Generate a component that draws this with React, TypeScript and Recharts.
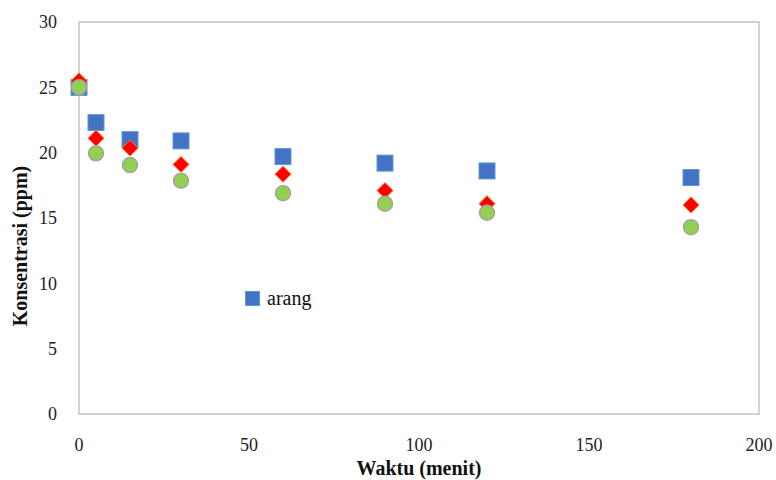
import React from 'react';
import { ScatterChart, Scatter, XAxis, YAxis, ReferenceArea } from 'recharts';

// waktu (menit)
const waktu = [0, 5, 15, 30, 60, 90, 120, 180];
// konsentrasi (ppm) per series
const arang = [25.0, 22.3, 21.0, 20.9, 19.7, 19.2, 18.6, 18.1];
const seriesB = [25.5, 21.1, 20.35, 19.1, 18.35, 17.1, 16.1, 16.0];
const seriesC = [25.0, 19.95, 19.05, 17.85, 16.9, 16.1, 15.4, 14.3];

const xTicks = [0, 50, 100, 150, 200];
const yTicks = [0, 5, 10, 15, 20, 25, 30];

const toPoints = (vals: number[]) => waktu.map((x, i) => ({ x, y: vals[i] }));

const FONT = 'Liberation Serif, serif';

const SquareShape = (props: any) => {
    const { cx, cy } = props;
    return <rect x={cx - 8} y={cy - 8} width={16} height={16} fill="#4472C4" stroke="#5B9BD5" strokeWidth={1} />;
};

const DiamondShape = (props: any) => {
    const { cx, cy } = props;
    const r = 8;
    return (
        <polygon
            points={`${cx},${cy - r} ${cx + r},${cy} ${cx},${cy + r} ${cx - r},${cy}`}
            fill="#FF0000"
            stroke="#FF7A1A"
            strokeWidth={1}
        />
    );
};

const CircleShape = (props: any) => {
    const { cx, cy } = props;
    return <circle cx={cx} cy={cy} r={7.5} fill="#92D050" stroke="#A5A5A5" strokeWidth={1.5} />;
};

// custom ticks so the serif font is actually applied
const XTick = (props: any) => {
    const { x, y, payload } = props;
    return (
        <text x={x} y={y} dy="0.71em" textAnchor="middle" style={{ fontFamily: FONT, fontSize: 18 }} fill="#222">
            {payload.value}
        </text>
    );
};

const YTick = (props: any) => {
    const { x, y, payload } = props;
    return (
        <text x={x} y={y} dy="0.35em" textAnchor="end" style={{ fontFamily: FONT, fontSize: 18 }} fill="#222">
            {payload.value}
        </text>
    );
};

const App: React.FC = () => {
    return (
        <div style={{ position: 'absolute', left: 0, top: 0, width: 776, height: 480, background: '#fff', fontFamily: FONT }}>
            <ScatterChart width={776} height={480} margin={{ top: 22, right: 17, left: 0, bottom: 0 }}>
                <XAxis
                    type="number"
                    dataKey="x"
                    domain={[0, 200]}
                    ticks={xTicks}
                    axisLine={false}
                    tickLine={false}
                    tickSize={0}
                    tickMargin={24}
                    height={66}
                    tick={(p: any) => <XTick {...p} />}
                    label={{
                        content: () => (
                            <text x={419} y={475} textAnchor="middle" style={{ fontFamily: FONT, fontWeight: 'bold', fontSize: 20 }} fill="#111">
                                Waktu (menit)
                            </text>
                        ),
                    }}
                />
                <YAxis
                    type="number"
                    dataKey="y"
                    domain={[0, 30]}
                    ticks={yTicks}
                    axisLine={false}
                    tickLine={false}
                    tickSize={0}
                    tickMargin={22}
                    width={79}
                    tick={(p: any) => <YTick {...p} />}
                    label={{
                        content: () => (
                            <text
                                x={20}
                                y={246}
                                transform="rotate(-90 20 246)"
                                textAnchor="middle"
                                dominantBaseline="central"
                                style={{ fontFamily: FONT, fontWeight: 'bold', fontSize: 20 }}
                                fill="#111"
                            >
                                Konsentrasi (ppm)
                            </text>
                        ),
                    }}
                />
                <ReferenceArea x1={0} x2={200} y1={0} y2={30} fill="none" stroke="#C4C4C4" strokeWidth={1.5} ifOverflow="visible" />
                <Scatter name="arang" data={toPoints(arang)} shape={SquareShape} isAnimationActive={false} />
                <Scatter name="b" data={toPoints(seriesB)} shape={DiamondShape} isAnimationActive={false} />
                <Scatter name="c" data={toPoints(seriesC)} shape={CircleShape} isAnimationActive={false} />
            </ScatterChart>
            <div
                style={{
                    position: 'absolute',
                    left: 245,
                    top: 287,
                    display: 'flex',
                    alignItems: 'center',
                    fontSize: 20,
                    color: '#111',
                    lineHeight: '22px',
                }}
            >
                <span style={{ display: 'inline-block', width: 13, height: 13, background: '#4472C4', border: '1px solid #5B9BD5', marginRight: 7 }} />
                <span>arang</span>
            </div>
        </div>
    );
};

export default App;
